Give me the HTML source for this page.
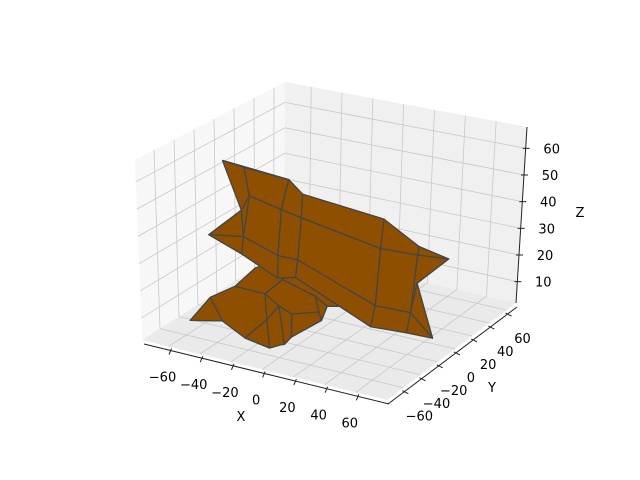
<!DOCTYPE html>
<html><head><meta charset="utf-8"><style>
html,body{margin:0;padding:0;background:#fff;}
svg{display:block;font-family:"DejaVu Sans","Liberation Sans",sans-serif;}
</style></head><body>
<svg id="chart" width="640" height="480" viewBox="0 0 640 480" xmlns="http://www.w3.org/2000/svg">
<g id="panes"></g>
<g id="grid"></g>
<g id="axes"></g>
<g id="surface"></g>
<text x="241" y="421" font-size="13" text-anchor="middle">X</text>
<text x="492" y="392" font-size="13" text-anchor="middle">Y</text>
<text x="580" y="217" font-size="13" text-anchor="middle">Z</text>
</svg>
<script>
const xTicks = [-60, -40, -20, 0, 20, 40, 60];
const yTicks = [-60, -40, -20, 0, 20, 40, 60];
const zTicks = [10, 20, 30, 40, 50, 60];
const xTickLabels = ["\u221260", "\u221240", "\u221220", "0", "20", "40", "60"];
const yTickLabels = ["\u221260", "\u221240", "\u221220", "0", "20", "40", "60"];
const zTickLabels = ["10", "20", "30", "40", "50", "60"];
const xLimits = [-77, 80];
const yLimits = [-79, 71];
const zLimits = [2, 68];
// mesh vertices (data coordinates)
const vertX = [-72,-58.5,-30.5,-21.6,30,52.9,72,52.9,65,47.8,24.3,-25.4,-36.9,-60.4,-81.5,-60.4,-55.3,-35,-22.2,28.7,52.3,-59.2,-36.9,-24.1,26.8,49.8,
  -69.7,-56.3,-40.4,-27.6,-10.4,10.6,18.2,15,-4.1,-10.4,-18.1,-34,-48.7,-21.3,13.1,-4.1,-12.4,-20,-8.5,25.9,-16.8];
const vertY = [0,0,0,0,0,0,0,0,0,0,0,0,0,0,0,0,0,0,0,0,0,0,0,0,0,0,
  -40,-40,-40,-40,-40,-40,-40,-40,-40,-40,-40,-40,-40,-40,-40,-40,-40,-40,-40,-40,-40];
const vertZ = [52.8,51.8,50.6,46.2,43.2,35.9,33.7,22.5,4.0,3.7,2.85,14.6,12.8,18.9,23.4,35.4,41.5,38.8,37.3,32.2,32.7,25.6,21.3,21.3,10.9,11.3,
  1.6,12,18.2,26.6,24.6,21.2,18.5,13,4.4,0.8,-1.5,0,4.3,17.9,15.8,12.8,14.7,8.6,1.1,19.6,30.1];
// backing outlines (1-based vertex indices) filled without edges
const backings = [
  [27,28,29,30,47,46,33,34,35,45,36,37,38,39],
  [1,3,4,5,6,7,8,9,10,11,12,13,14,15,16]
];
// faces (1-based vertex indices), drawn in order
const faces = [
  [27,28,39],[28,29,40,44,38,39],[29,30,47,31,40],[31,47,46,33,32],[40,31,32,41,42,43],
  [32,33,34,41],[41,34,35,42],[43,42,35,45],[44,43,45,36,37],[44,37,38],
  [15,16,22],[15,22,14],[6,7,21],[21,7,8,26],[26,8,9],[26,9,10],
  [1,3,2],[1,2,17,16],
  [2,3,18,17],[3,4,19,18],[4,5,20,19],[5,6,21,20],
  [17,18,23,22],[18,19,24,23],[19,20,25,24],[20,21,26,25],
  [22,23,13,14],[23,24,12,13],[24,25,11,12],[25,26,10,11]
];

// projection box corners (screen)
const C = {
  FLb:[142,340], FRb:[387,400], BRb:[516,303], BLb:[284,250],
  FLt:[135,160], FRt:[402,212], BRt:[527,127], BLt:[285,82]
};
function lerp(a,b,t){return [a[0]+(b[0]-a[0])*t, a[1]+(b[1]-a[1])*t];}
function P(x,y,z){
  const u=(x-xLimits[0])/(xLimits[1]-xLimits[0]);
  const v=(y-yLimits[0])/(yLimits[1]-yLimits[0]);
  const w=(z-zLimits[0])/(zLimits[1]-zLimits[0]);
  const b=lerp(lerp(C.FLb,C.FRb,u), lerp(C.BLb,C.BRb,u), v);
  const t=lerp(lerp(C.FLt,C.FRt,u), lerp(C.BLt,C.BRt,u), v);
  return lerp(b,t,w);
}
const NS="http://www.w3.org/2000/svg";
function mk(tag, parent, attrs){
  const e=document.createElementNS(NS,tag);
  for(const k in attrs) e.setAttribute(k, attrs[k]);
  parent.appendChild(e); return e;
}
function pts(a){return a.map(p=>p[0].toFixed(1)+","+p[1].toFixed(1)).join(" ");}
const [x0,x1]=xLimits,[y0,y1]=yLimits,[z0,z1]=zLimits;
const panes=document.getElementById('panes');
let e;
e=mk('polygon',panes,{points:pts([P(x0,y0,z0),P(x0,y1,z0),P(x0,y1,z1),P(x0,y0,z1)]),fill:'#f7f7f7'});


e=mk('polygon',panes,{points:pts([P(x0,y1,z0),P(x1,y1,z0),P(x1,y1,z1),P(x0,y1,z1)]),fill:'#f0f0f0'});


e=mk('polygon',panes,{points:pts([P(x0,y0,z0),P(x1,y0,z0),P(x1,y1,z0),P(x0,y1,z0)]),fill:'#eaeaea'});



const grid=document.getElementById('grid');
function gl(a,b,name){
  const l=mk('line',grid,{x1:a[0],y1:a[1],x2:b[0],y2:b[1],stroke:'#c8c8c8','stroke-width':0.8});
  
  
}
xTicks.forEach(t=>{gl(P(t,y0,z0),P(t,y1,z0),'floor-gridline-x');gl(P(t,y1,z0),P(t,y1,z1),'back-gridline-x');});
yTicks.forEach(t=>{gl(P(x0,t,z0),P(x1,t,z0),'floor-gridline-y');gl(P(x0,t,z0),P(x0,t,z1),'left-gridline-y');});
zTicks.forEach(t=>{gl(P(x0,y0,t),P(x0,y1,t),'left-gridline-z');gl(P(x0,y1,t),P(x1,y1,t),'back-gridline-z');});

const axes=document.getElementById('axes');
function off(p,dx,dy){return [p[0]+dx,p[1]+dy];}
function al(a,b,name){
  const l=mk('line',axes,{x1:a[0],y1:a[1],x2:b[0],y2:b[1],stroke:'#222','stroke-width':1});
  
  
}
al(off(P(x0,y0,z0),2,4),off(P(x1,y0,z0),2,4),'x-axis-line');
al(off(P(x1,y0,z0),1,4),off(P(x1,y1,z0),1,4),'y-axis-line');
al(P(x1,y1,z0),P(x1,y1,z1),'z-axis-line');
function tl(p,txt,name){
  const t=mk('text',axes,{x:p[0].toFixed(1),y:p[1].toFixed(1),'font-size':13,'text-anchor':'middle',fill:'#000'});
  t.textContent=txt;
  
  
}
xTicks.forEach((t,i)=>{
  const p=off(P(t,y0,z0),2,4);
  al(off(p,1,-2),off(p,-1.5,4),'x-tick');
  tl(off(p,-8,31),xTickLabels[i],'x-tick-label');
});
yTicks.forEach((t,i)=>{
  const p=off(P(x1,t,z0),1,4);
  al(off(p,-2,-1),off(p,4,2),'y-tick');
  tl(off(p,15,29),yTickLabels[i],'y-tick-label');
});
zTicks.forEach((t,i)=>{
  const p=P(x1,y1,t);
  al(off(p,-3,0),off(p,4,0),'z-tick');
  tl(off(p,26,5),zTickLabels[i],'z-tick-label');
});

const surf=document.getElementById('surface');
function drawFace(f, stroke, name){
  const poly=f.map(i=>P(vertX[i-1],vertY[i-1],vertZ[i-1]));
  const pg=mk('polygon',surf,{points:pts(poly),fill:'#8e5000',stroke:stroke,'stroke-width':1.3,'stroke-linejoin':'round'});
  
  
}
drawFace(backings[0],'#454545','lower-body-backing');
faces.slice(0,10).forEach(f=>drawFace(f,'#454545','surface-face'));
drawFace(backings[1],'#454545','fuselage-backing');
faces.slice(10).forEach(f=>drawFace(f,'#454545','surface-face'));
</script>
</body></html>
